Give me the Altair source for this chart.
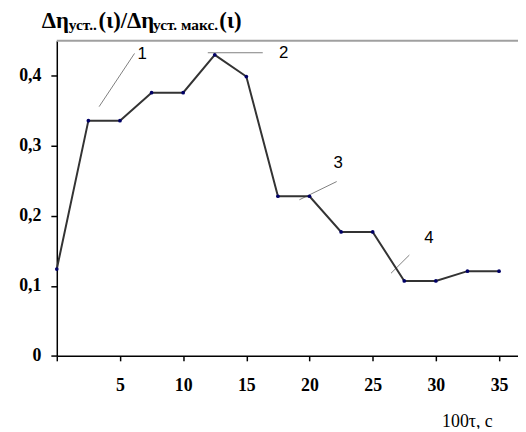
import altair as alt
import pandas as pd

# data
x_vals = [0, 2.5, 5, 7.5, 10, 12.5, 15, 17.5, 20, 22.5, 25, 27.5, 30, 32.5, 35]
y_vals = [0.124, 0.336, 0.336, 0.376, 0.376, 0.430, 0.399, 0.228, 0.228,
          0.177, 0.177, 0.107, 0.107, 0.121, 0.121]
y_ticks = [0, 0.1, 0.2, 0.3, 0.4]
Y_MAX = 0.45
X_MAX = 36.5

# annotation leader lines and their numbers
ann_labels = ["1", "2", "3", "4"]
ann_x1 = [3.35, 11.95, 19.2, 26.45]
ann_y1 = [0.356, 0.433, 0.223, 0.118]
ann_x2 = [6.15, 16.3, 22.15, 27.9]
ann_y2 = [0.432, 0.433, 0.249, 0.144]
ann_tx = [6.75, 17.96, 22.27, 29.46]
ann_ty = [0.431, 0.432, 0.275, 0.168]

title_parts = ["Δη", "уст..", "(ι)/Δη", "уст. макс.", "(ι)"]
x_title = "100τ, с"

df = pd.DataFrame({"x": x_vals, "y": y_vals})
ann = pd.DataFrame({"label": ann_labels, "x1": ann_x1, "y1": ann_y1,
                    "x2": ann_x2, "y2": ann_y2, "tx": ann_tx, "ty": ann_ty})

SERIF = "'Liberation Serif', 'Times New Roman', serif"

xscale = alt.Scale(domain=[0, X_MAX], nice=False, zero=False)
yscale = alt.Scale(domain=[0, Y_MAX], nice=False)

xaxis = alt.Axis(
    values=x_vals,
    labelExpr="datum.value > 0 && datum.value % 5 == 0 ? format(datum.value, 'd') : ''",
    title=x_title, titleFont=SERIF, titleFontSize=18, titleFontWeight="normal",
    titleColor="black", titleAlign="right", titleBaseline="alphabetic",
    titleX=440, titleY=71, titleAngle=0,
    tickSize=5, labelPadding=16, labelFlush=False,
)
yaxis = alt.Axis(
    values=y_ticks,
    labelExpr="datum.value == 0 ? '0' : replace(format(datum.value, '.1f'), '.', ',')",
    title=None, tickSize=6, labelPadding=10,
)

base = alt.Chart(df)

line = base.mark_line(color="#333333", strokeWidth=2).encode(
    x=alt.X("x:Q", scale=xscale, axis=xaxis),
    y=alt.Y("y:Q", scale=yscale, axis=yaxis),
)
pts = base.mark_point(filled=True, color="#000066", size=14, opacity=1).encode(
    x=alt.X("x:Q", scale=xscale), y=alt.Y("y:Q", scale=yscale)
)

top_rule = alt.Chart(pd.DataFrame({"v": [Y_MAX]})).mark_rule(
    color="#a0a0a0", strokeWidth=2
).encode(y=alt.Y("v:Q", scale=yscale))

leaders = alt.Chart(ann).mark_rule(color="#808080", strokeWidth=1).encode(
    x=alt.X("x1:Q", scale=xscale), y=alt.Y("y1:Q", scale=yscale),
    x2="x2:Q", y2="y2:Q",
)
nums = alt.Chart(ann).mark_text(
    font="Liberation Sans", fontSize=17, color="black", align="center", baseline="middle"
).encode(
    x=alt.X("tx:Q", scale=xscale), y=alt.Y("ty:Q", scale=yscale), text="label:N"
)

# title pieces (pixel placement relative to plot origin)
title_pos = [(-15.3, -12.5, 23), (12.2, -10.5, 15.5), (42.2, -12.5, 23),
             (97.2, -10.5, 15.5), (164.2, -12.5, 23)]
title_layers = []
for part, (px, py, fs) in zip(title_parts, title_pos):
    title_layers.append(
        alt.Chart(pd.DataFrame({"t": [part]})).mark_text(
            font=SERIF, fontSize=fs, fontWeight="bold", color="black",
            align="left", baseline="alphabetic"
        ).encode(text="t:N", x=alt.value(px), y=alt.value(py))
    )

chart = alt.layer(top_rule, leaders, line, pts, nums, *title_layers).properties(
    width=466, height=318.3,
    autosize=alt.AutoSizeParams(type="none"),
    padding={"left": 49.3, "top": 31, "right": 0, "bottom": 72},
    background="white",
).configure_view(stroke=None).configure_axis(
    grid=False, domainColor="black", domainWidth=1.5, tickColor="black", tickWidth=1.5,
    labelFont=SERIF, labelFontSize=18, labelFontWeight="bold", labelColor="black",
)

chart.save("out.html", embed_options={"renderer": "svg", "actions": False})
